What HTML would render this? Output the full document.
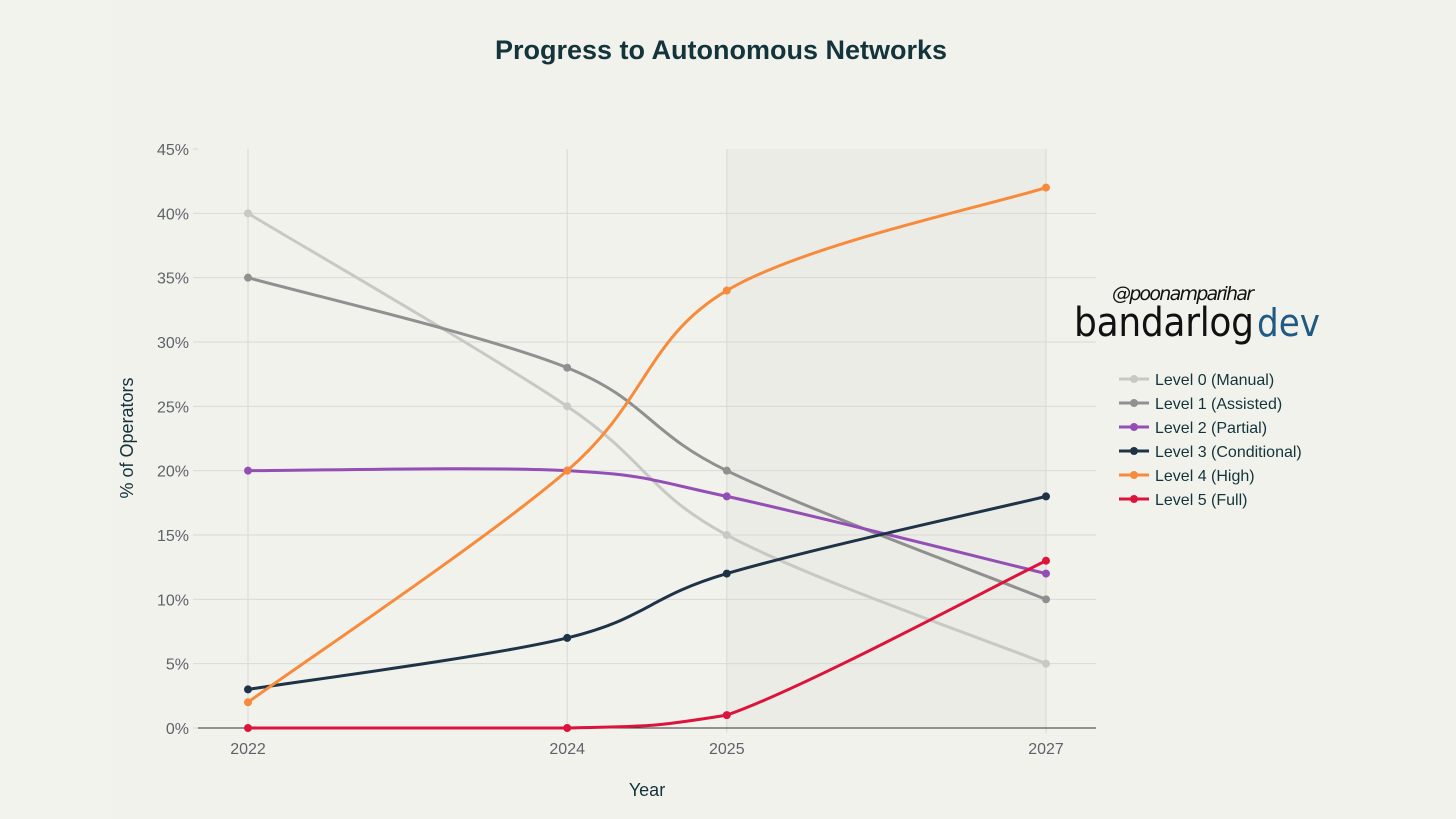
<!DOCTYPE html>
<html><head><meta charset="utf-8"><style>
body{margin:0;background:#f3f3ee;}
svg{display:block;font-family:"Liberation Sans",sans-serif;}
</style></head><body>
<svg id="chart" width="1456" height="819" viewBox="0 0 1456 819">
<rect x="0" y="0" width="1456" height="819" fill="#f3f3ee"/>
<rect x="113" y="0" width="1343" height="819" fill="#f2f2ed"/>
<text x="721" y="59" text-anchor="middle" font-size="27" font-weight="bold" fill="#13343b">Progress to Autonomous Networks</text>
<g id="plot"></g>
<text x="647" y="796" text-anchor="middle" font-size="18" fill="#13343b">Year</text>
<text transform="translate(133,438) rotate(-90)" text-anchor="middle" font-size="18" fill="#13343b">% of Operators</text>
<g>
<text x="1112" y="300" font-size="19" font-style="italic" fill="#111" font-family="'DejaVu Sans',sans-serif" textLength="142">@poonamparihar</text>
<text x="1074" y="336" font-size="40" fill="#111" font-family="'DejaVu Sans Condensed','DejaVu Sans',sans-serif" font-weight="200" textLength="180" lengthAdjust="spacing">bandarlog</text>
<text x="1257" y="336" font-size="38" fill="#1f5a85" font-family="'DejaVu Sans Condensed','DejaVu Sans',sans-serif">dev</text>
</g>
<g id="legend"></g>
</svg>
<script>
const years = [2022, 2024, 2025, 2027];
const yTicks = [0, 5, 10, 15, 20, 25, 30, 35, 40, 45];
const seriesNames = ["Level 0 (Manual)","Level 1 (Assisted)","Level 2 (Partial)","Level 3 (Conditional)","Level 4 (High)","Level 5 (Full)"];
const level0 = [40, 25, 15, 5];
const level1 = [35, 28, 20, 10];
const level2 = [20, 20, 18, 12];
const level3 = [3, 7, 12, 18];
const level4 = [2, 20, 34, 42];
const level5 = [0, 0, 1, 13];
const colors = ["#c8c8c4","#909090","#944fb5","#1f3347","#f88b3b","#dc143c"];
const NS="http://www.w3.org/2000/svg";
const x = v => 248 + (v-2022)*(1046-248)/5;
const y = v => 728 - v*(728-149)/45;
const plot=document.getElementById('plot');
function mk(tag,attrs,parent){const e=document.createElementNS(NS,tag);for(const k in attrs)e.setAttribute(k,attrs[k]);(parent||plot).appendChild(e);return e;}
let sh=mk('rect',{x:x(2025),y:149,width:x(2027)-x(2025),height:579,fill:'#e9e9e4',opacity:0.7});


yTicks.forEach(t=>{
  if(t>0&&t<45){let g=mk('line',{x1:198,x2:1096,y1:y(t),y2:y(t),stroke:'#d8d8d4','stroke-width':1});
  
  }
  mk('line',{x1:193,x2:198,y1:y(t),y2:y(t),stroke:'#d8d8d4'});
  let l=mk('text',{x:189,y:y(t)+6,'text-anchor':'end','font-size':16,fill:'#5f6368'});
  
  
  l.textContent=t+'%';
});
years.forEach(yr=>{
  let g=mk('line',{x1:x(yr),x2:x(yr),y1:149,y2:728,stroke:'#d8d8d4'});
  
  
  mk('line',{x1:x(yr),x2:x(yr),y1:728,y2:733,stroke:'#d8d8d4'});
  let l=mk('text',{x:x(yr),y:754,'text-anchor':'middle','font-size':16,fill:'#5f6368'});
  
  
  l.textContent=yr;
});
let ax=mk('line',{x1:198,x2:1096,y1:728,y2:728,stroke:'#333','stroke-width':1});


const y0=y(0);
function spline(pts){
  let d=`M${pts[0][0]},${pts[0][1]}`;const t=0.5;
  for(let i=0;i<pts.length-1;i++){
    const p0=pts[i-1]||pts[i],p1=pts[i],p2=pts[i+1],p3=pts[i+2]||p2;
    const c1=[p1[0]+(p2[0]-p0[0])*t/3,Math.min(y0,p1[1]+(p2[1]-p0[1])*t/3)];
    const c2=[p2[0]-(p3[0]-p1[0])*t/3,Math.min(y0,p2[1]-(p3[1]-p1[1])*t/3)];
    d+=` C${c1[0]},${c1[1]} ${c2[0]},${c2[1]} ${p2[0]},${p2[1]}`;
  }
  return d;
}
const all=[level0,level1,level2,level3,level4,level5];
all.forEach((s,i)=>{
  const pts=s.map((v,j)=>[x(years[j]),y(v)]);
  let p=mk('path',{d:spline(pts),fill:'none',stroke:colors[i],'stroke-width':3});
  
  
  pts.forEach(pt=>{let c=mk('circle',{cx:pt[0],cy:pt[1],r:4,fill:colors[i]});
    
    });
});
const lg=document.getElementById('legend');
seriesNames.forEach((n,i)=>{
  const ly=379+i*24;
  let g=mk('g',{},lg);
  
  
  mk('line',{x1:1119,x2:1149,y1:ly,y2:ly,stroke:colors[i],'stroke-width':3},g);
  mk('circle',{cx:1134,cy:ly,r:4,fill:colors[i]},g);
  let t=mk('text',{x:1155,y:ly+6,'font-size':16,fill:'#13343b'},g);
  t.textContent=n;
});
</script>
</body></html>
